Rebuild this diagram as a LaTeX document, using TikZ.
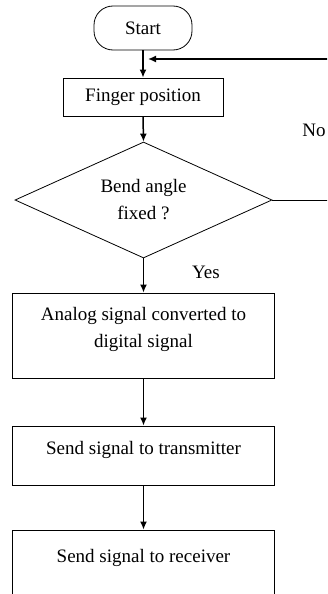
\documentclass[tikz,border=0pt]{standalone}
\usepackage{fontspec}
\setmainfont{Liberation Serif}
\usetikzlibrary{arrows.meta,positioning,shapes.geometric}
\tikzset{
    stepbox/.style={draw, line width=0.8pt, align=center, inner sep=0pt,
    minimum width=262pt},
    termbox/.style={draw, line width=0.8pt, rounded corners=19pt,
    minimum width=98pt, minimum height=44pt, inner sep=0pt},
    decbox/.style={draw, diamond, line width=0.8pt, aspect=2.2, align=center,
    minimum width=257pt, minimum height=116pt, inner sep=0pt},
    branchlabel/.style={inner sep=0pt},
}

\begin{document}
\begin{tikzpicture}[
            x=1pt, y=-1pt,
            >={Latex[length=8pt,width=7pt]},
            flow/.style={->, line width=1.5pt},
            font=\fontsize{19}{27}\selectfont
        ]
            \useasboundingbox (0,0) rectangle (327,594);
            \clip (0,0) rectangle (327,594);
            % start and input
            \node[termbox] (start) at (143,28) {Start};
            \node[stepbox, minimum width=160pt, minimum height=38pt] (finger) at (143,97) {Finger position};
            % decision
            \node[decbox] (bend) at (143.5,200) {Bend angle\\fixed ?};
            \node[branchlabel] (yes) at (206,272) {Yes};
            \node[branchlabel] (no) at (314,130) {No};
            % processing steps
            \node[stepbox, minimum height=85pt, text depth=16pt] (analog) at (143.5,335.5) {Analog signal converted to\\digital signal};
            \node[stepbox, minimum height=59pt, text depth=15pt] (trans) at (143.5,455.5) {Send signal to transmitter};
            \node[stepbox, minimum height=70pt, text depth=19pt] (recv) at (143.5,565) {Send signal to receiver};
            % loop back
            \coordinate (loopin) at (330,59);
            \coordinate (loopout) at (148,59);
            \coordinate (noexit) at (330,200);
            % arrows
            \draw[flow] (start.south) -- (finger.north);
            \draw[flow] (finger.south) -- (bend.north);
            \draw[flow] (bend.south) -- (analog.north);
            \draw[flow] (analog.south) -- (trans.north);
            \draw[flow] (trans.south) -- (recv.north);
            \draw[line width=0.8pt] (bend.east) -- (noexit);
            \draw[flow] (loopin) -- (loopout);
        \end{tikzpicture}
\end{document}
